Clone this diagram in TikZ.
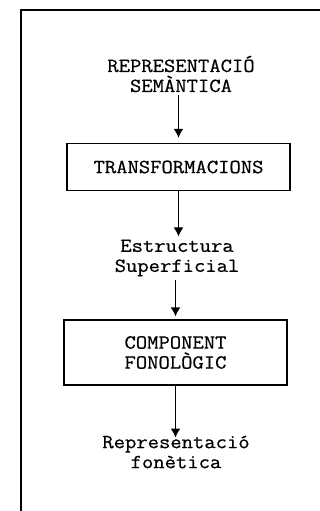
\documentclass[tikz,border=0pt]{standalone}
\usepackage{fontspec}
\setmonofont[FakeStretch=1.1,FakeBold=0.6]{Latin Modern Mono}
\usepackage{tikz}
\usetikzlibrary{arrows.meta,positioning}

\begin{document}
\begin{tikzpicture}[x=1pt,y=-1pt]

\tikzset{txt/.style={inner sep=0pt, align=center, font=\ttfamily\fontsize{20}{20}\selectfont},
  box/.style={draw, line width=1.3pt, minimum width=223pt, txt},
  arr/.style={line width=1.5pt, -{Latex[length=9pt,width=10pt]}}}

\useasboundingbox (0,0) rectangle (320,511);

% frame
\draw[line width=1.3pt] (21,511) -- (21,10) -- (320,10);

\node[txt] (sem) at (181,74) {REPRESENTACIÓ\\SEMÀNTICA};
\node[box, minimum height=47pt] (trans) at (178.5,167) {TRANSFORMACIONS};
\node[txt] (est) at (177,258) {Estructura\\Superficial};
\node[box, minimum height=65pt] (comp) at (175.5,352.5) {COMPONENT\\FONOLÒGIC};
\node[txt] (rep) at (176,452) {Representació\\fonètica};

\draw[arr, shorten <=3pt, shorten >=5pt] (trans.north |- sem.south) -- (trans.north);
\draw[arr, shorten >=3pt] (trans.south) -- (trans.south |- est.north);
\draw[arr, shorten <=3pt, shorten >=3pt] (comp.north |- est.south) -- (comp.north);
\draw[arr, shorten >=-2pt] (comp.south) -- (comp.south |- rep.north);

\end{tikzpicture}
\end{document}
